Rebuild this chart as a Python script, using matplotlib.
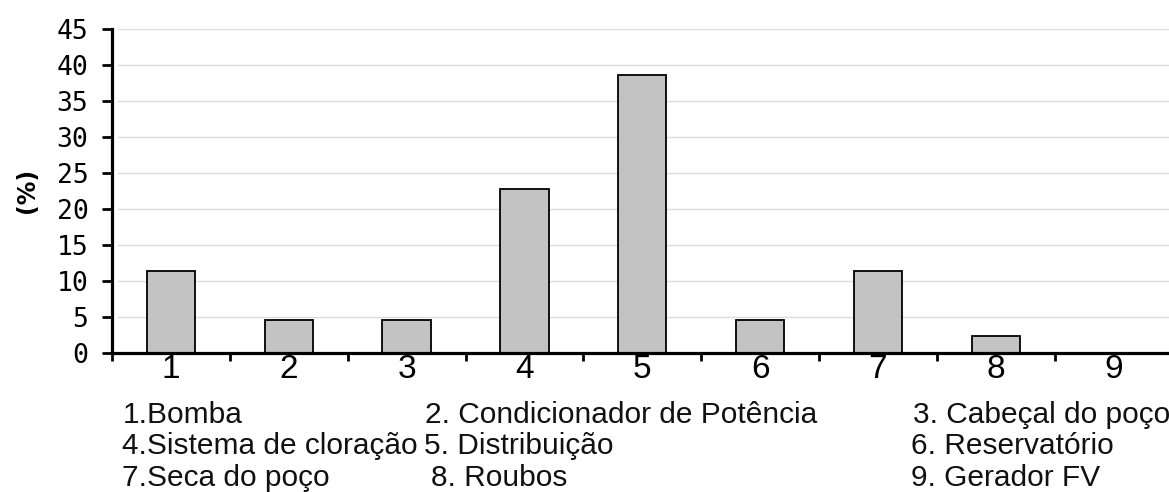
import matplotlib.pyplot as plt
import numpy as np

# dados do grafico
categorias = [1, 2, 3, 4, 5, 6, 7, 8, 9]
porcentagens = [11.4, 4.5, 4.5, 22.7, 38.6, 4.5, 11.4, 2.3, 0.0]
yticks = [0, 5, 10, 15, 20, 25, 30, 35, 40, 45]

# legenda abaixo do eixo (3 colunas x 3 linhas)
legenda_col1 = ["1.Bomba", "4.Sistema de cloração", "7.Seca do poço"]
legenda_col2 = ["2. Condicionador de Potência", "5. Distribuição", "8. Roubos"]
legenda_col3 = ["3. Cabeçal do poço", "6. Reservatório", "9. Gerador FV"]

W, H = 1169, 492
fig = plt.figure(figsize=(W / 100, H / 100), dpi=100)
ax = fig.add_axes([112 / W, 1 - 352.7 / H, 1 - 112 / W, (352.7 - 28.7) / H])

# grade horizontal clara
for y in yticks[1:]:
    ax.axhline(y, xmin=0.006, color="#dcdcdc", lw=1.0, zorder=0)

ax.bar(categorias, porcentagens, width=0.41, color="#c3c3c3",
       edgecolor="black", linewidth=1.3, zorder=2)

ax.set_xlim(0.5, 9.47)
ax.set_ylim(0, 45)

for s in ["top", "right"]:
    ax.spines[s].set_visible(False)
ax.spines["left"].set_linewidth(2.3)
ax.spines["bottom"].set_linewidth(2.3)
ax.spines["bottom"].set_zorder(3)

ax.set_yticks(yticks)
ax.set_yticklabels([str(v) for v in yticks], family="DejaVu Sans Mono", fontsize=19)
ax.tick_params(axis="y", length=7, width=2, pad=10, color="black")

ax.set_xticks(categorias)
ax.set_xticklabels([str(c) for c in categorias], family="Liberation Sans", fontsize=24)
ax.set_xticks(np.arange(0.5, 9.0, 1.0), minor=True)
ax.tick_params(axis="x", which="major", length=0, pad=1)
ax.tick_params(axis="x", which="minor", length=6, width=2, color="black")

ax.set_ylabel("(%)", fontsize=17, fontweight="bold")
ax.yaxis.set_label_coords(-0.069, 0.5)

# texto da legenda (posicoes em pixels)
linhas_y = [423, 454, 486]
colunas = [([123, 122, 122], legenda_col1),
           ([425, 424, 431], legenda_col2),
           ([913, 911, 911], legenda_col3)]
for xs, col in colunas:
    for xpix, ypix, txt in zip(xs, linhas_y, col):
        fig.text(xpix / W, 1 - ypix / H, txt, family="Liberation Sans",
                 fontsize=21.5, va="baseline", ha="left", color="#111111")

fig.savefig("out.png", dpi=100)
